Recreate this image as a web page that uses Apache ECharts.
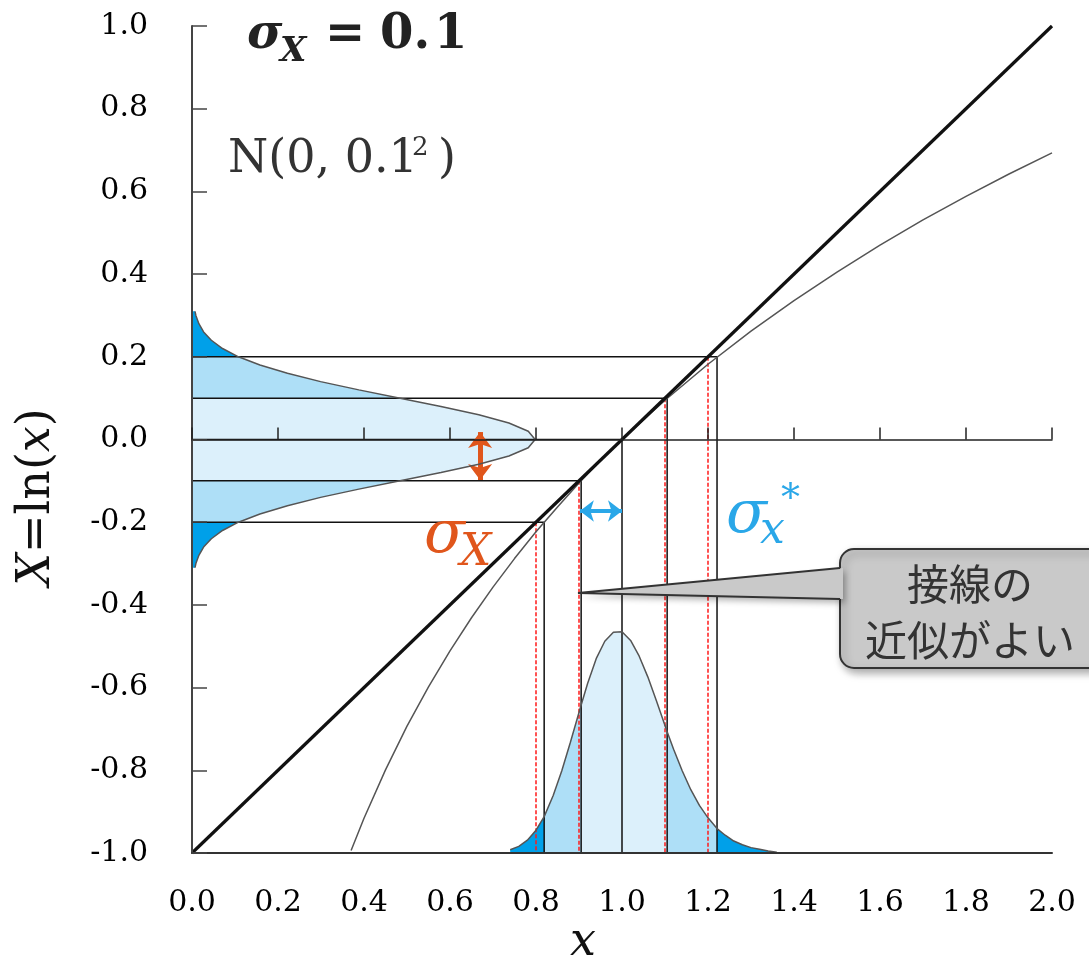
<!DOCTYPE html>
<html>
<head>
<meta charset="utf-8">
<script src="https://cdn.jsdelivr.net/npm/echarts@6/dist/echarts.min.js"></script>
<style>
  html, body { margin: 0; padding: 0; background: #fff; }
  #chart { width: 1089px; height: 965px; }
</style>
</head>
<body>
<div id="chart"></div>
<script>
// 軸の目盛
const xTicks = [0, 0.2, 0.4, 0.6, 0.8, 1.0, 1.2, 1.4, 1.6, 1.8, 2.0]
const yTicks = [-1.0, -0.8, -0.6, -0.4, -0.2, 0, 0.2, 0.4, 0.6, 0.8, 1.0]

// X = ln(x)
const lnX = [0.37, 0.40, 0.45, 0.50, 0.55, 0.60, 0.65, 0.70, 0.75, 0.80, 0.85, 0.90, 0.95, 1.00,
  1.10, 1.20, 1.30, 1.40, 1.50, 1.60, 1.70, 1.80, 1.90, 2.00]
const lnY = [-0.994, -0.916, -0.799, -0.693, -0.598, -0.511, -0.431, -0.357, -0.288, -0.223, -0.163, -0.105, -0.051, 0,
  0.095, 0.182, 0.262, 0.336, 0.405, 0.470, 0.531, 0.588, 0.642, 0.693]

// 接線 (x = 1)
const tanX = [0, 2]
const tanY = [-1, 1]

// 左: N(0, 0.1^2) の密度 (横向き)
const normY = [-0.31, -0.30, -0.28, -0.26, -0.24, -0.22, -0.20, -0.18, -0.16, -0.14, -0.12, -0.10, -0.08, -0.06, -0.04, -0.02,
  0, 0.02, 0.04, 0.06, 0.08, 0.10, 0.12, 0.14, 0.16, 0.18, 0.20, 0.22, 0.24, 0.26, 0.28, 0.30, 0.31]
const normW = [0.007, 0.009, 0.016, 0.027, 0.045, 0.071, 0.108, 0.158, 0.222, 0.299, 0.388, 0.484, 0.579, 0.667, 0.737, 0.782,
  0.798, 0.782, 0.737, 0.667, 0.579, 0.484, 0.388, 0.299, 0.222, 0.158, 0.108, 0.071, 0.045, 0.027, 0.016, 0.009, 0.007]
const normEdges = [-0.31, -0.2, -0.1, 0.1, 0.2, 0.31]

// 下: x の対数正規密度
const lognX = [0.74, 0.76, 0.78, 0.80, 0.819, 0.84, 0.86, 0.88, 0.905, 0.92, 0.94, 0.96, 0.98, 1.00, 1.02, 1.04,
  1.06, 1.08, 1.105, 1.12, 1.14, 1.16, 1.18, 1.20, 1.221, 1.24, 1.26, 1.28, 1.30, 1.32, 1.34, 1.36]
const lognY = [-0.992, -0.984, -0.969, -0.945, -0.912, -0.861, -0.801, -0.732, -0.642, -0.590, -0.530, -0.488, -0.466, -0.465, -0.486, -0.524,
  -0.574, -0.632, -0.707, -0.749, -0.801, -0.847, -0.885, -0.915, -0.941, -0.957, -0.971, -0.980, -0.987, -0.991, -0.995, -0.998]
const lognEdges = [0.74, 0.819, 0.905, 1.105, 1.221, 1.36]

// 補助線
const levelY = [-0.2, -0.1, 0, 0.1, 0.2]
const levelX = [0.819, 0.905, 1.0, 1.105, 1.221]
const redX = [0.8, 0.9, 1.1, 1.2]
const redTop = [-0.2, -0.1, 0.1, 0.2]

// 矢印
const sigmaArrow = [[0.67, 0.018], [0.67, -0.098]]
const sigmaStarArrow = [[0.902, -0.173], [1.0, -0.173]]

const bandFill = ['#00a0e9', '#aedff7', '#dcf0fb', '#aedff7', '#00a0e9']
const serif = '"DejaVu Serif", "Liberation Serif", serif'
const inRange = (v, lo, hi) => v >= lo - 1e-9 && v <= hi + 1e-9

const chart = echarts.init(document.getElementById('chart'))

function tickLabel(v) {
  return (Math.abs(v) < 1e-9 ? 0 : v).toFixed(1)
}

function txt(x, y, text, size, color, opts = {}) {
  return {
    type: 'text', x, y, z: 100, silent: true,
    style: {
      text, fill: color, fontSize: size, fontFamily: opts.family || serif,
      fontStyle: opts.italic ? 'italic' : 'normal',
      fontWeight: opts.bold ? 'bold' : 'normal',
      align: opts.align || 'left', textAlign: opts.align || 'left',
      verticalAlign: 'middle', textVerticalAlign: 'middle',
      lineHeight: opts.lineHeight,
    },
  }
}

const orange = '#e0561c'
const blue = '#2aa7e8'
const calloutFill = '#c9c9c9'

const option = {
  animation: false,
  grid: [
    { left: 192, right: 37, top: 26, bottom: 112 },
    { left: 192, right: 37, top: 26, bottom: 112 },
  ],
  xAxis: [
    {
      type: 'value', gridIndex: 0, min: xTicks[0], max: xTicks[xTicks.length - 1], interval: 0.2,
      axisLine: { onZero: false, lineStyle: { color: '#333', width: 2 } },
      axisTick: { show: false },
      splitLine: { show: false },
      axisLabel: { formatter: tickLabel, fontFamily: serif, fontSize: 30, color: '#000', margin: 35 },
      z: 10,
    },
    {
      type: 'value', gridIndex: 1, min: xTicks[0], max: xTicks[xTicks.length - 1], interval: 0.2,
      axisLine: { onZero: true, lineStyle: { color: '#222', width: 1.5 } },
      axisTick: { inside: true, length: 12, lineStyle: { color: '#222', width: 1.5 } },
      axisLabel: { show: false },
      splitLine: { show: false },
      z: 10,
    },
  ],
  yAxis: [
    {
      type: 'value', gridIndex: 0, min: yTicks[0], max: yTicks[yTicks.length - 1], interval: 0.2,
      axisLine: { show: true, onZero: false, lineStyle: { color: '#444', width: 2 } },
      axisTick: { show: true, inside: true, length: 15, lineStyle: { color: '#444', width: 1.5 } },
      splitLine: { show: false },
      axisLabel: { formatter: tickLabel, fontFamily: serif, fontSize: 30, color: '#000', margin: 44 },
      z: 10,
    },
    { type: 'value', gridIndex: 1, min: -1, max: 1, show: false },
  ],
  series: [
    {
      name: 'normFill', type: 'custom', z: 1, silent: true, data: [[0, 0]],
      renderItem: (params, api) => ({
        type: 'group',
        children: bandFill.map((fill, i) => {
          const lo = normEdges[i], hi = normEdges[i + 1]
          const pts = [api.coord([0, lo])]
          normY.forEach((y, k) => { if (inRange(y, lo, hi)) pts.push(api.coord([normW[k], y])) })
          pts.push(api.coord([0, hi]))
          return { type: 'polygon', shape: { points: pts }, style: { fill } }
        }),
      }),
    },
    {
      name: 'lognFill', type: 'custom', z: 1, silent: true, data: [[0, 0]],
      renderItem: (params, api) => ({
        type: 'group',
        children: bandFill.map((fill, i) => {
          const lo = lognEdges[i], hi = lognEdges[i + 1]
          const pts = [api.coord([lo, -1])]
          lognX.forEach((x, k) => { if (inRange(x, lo, hi)) pts.push(api.coord([x, lognY[k]])) })
          pts.push(api.coord([hi, -1]))
          return { type: 'polygon', shape: { points: pts }, style: { fill } }
        }),
      }),
    },
    {
      name: 'guides', type: 'custom', z: 3, silent: true,
      data: levelX.map((x, i) => [x, levelY[i]]),
      renderItem: (params, api) => {
        const x = api.value(0), y = api.value(1)
        return {
          type: 'polyline',
          shape: { points: [api.coord([0, y]), api.coord([x, y]), api.coord([x, -1])] },
          style: { stroke: '#111', lineWidth: 1.5, fill: null },
        }
      },
    },
    {
      name: 'redDash', type: 'custom', z: 4, silent: true,
      data: redX.map((x, i) => [x, redTop[i]]),
      renderItem: (params, api) => {
        const a = api.coord([api.value(0), api.value(1)])
        const b = api.coord([api.value(0), -1])
        return {
          type: 'line',
          shape: { x1: a[0], y1: a[1], x2: b[0], y2: b[1] },
          style: { stroke: '#ff1a1a', lineWidth: 1.5, lineDash: [4, 2] },
        }
      },
    },
    {
      name: 'normLine', type: 'line', z: 5, symbol: 'none', silent: true,
      data: normW.map((w, i) => [w, normY[i]]),
      lineStyle: { color: '#555', width: 1.5 },
    },
    {
      name: 'lognLine', type: 'line', z: 5, symbol: 'none', silent: true,
      data: lognX.map((x, i) => [x, lognY[i]]),
      lineStyle: { color: '#555', width: 1.5 },
    },
    {
      name: 'ln', type: 'line', z: 6, symbol: 'none', silent: true,
      data: lnX.map((x, i) => [x, lnY[i]]),
      lineStyle: { color: '#555', width: 1.5 },
    },
    {
      name: 'tangent', type: 'line', z: 7, symbol: 'none', silent: true,
      data: tanX.map((x, i) => [x, tanY[i]]),
      lineStyle: { color: '#111', width: 3.2 },
    },
    {
      name: 'sigmaArrow', type: 'line', z: 8, symbol: 'none', silent: true, data: [],
      markLine: {
        silent: true, symbol: ['arrow', 'arrow'], symbolSize: [18, 16],
        label: { show: false },
        lineStyle: { color: orange, width: 5, type: 'solid' },
        itemStyle: { color: orange },
        data: [[{ coord: sigmaArrow[0] }, { coord: sigmaArrow[1] }]],
      },
    },
    {
      name: 'sigmaStarArrow', type: 'line', z: 8, symbol: 'none', silent: true, data: [],
      markLine: {
        silent: true, symbol: ['arrow', 'arrow'], symbolSize: [16, 14],
        label: { show: false },
        lineStyle: { color: blue, width: 4, type: 'solid' },
        itemStyle: { color: blue },
        data: [[{ coord: sigmaStarArrow[0] }, { coord: sigmaStarArrow[1] }]],
      },
    },
  ],
  graphic: [
    // σ_X = 0.1
    txt(247, 36, 'σ', 48, '#222', { italic: true, bold: true }),
    txt(280, 52, 'X', 34, '#222', { italic: true, bold: true }),
    txt(325, 36, '=', 48, '#222', { bold: true }),
    txt(380, 36, '0.', 48, '#222', { bold: true }),
    txt(434, 36, '1', 48, '#222', { bold: true }),
    // N(0, 0.1^2)
    txt(228, 160, 'N(0, 0.1', 46, '#333'),
    txt(412, 148, '2', 26, '#333'),
    txt(438, 160, ')', 46, '#333'),
    // σ_X
    txt(424, 536, 'σ', 60, orange, { italic: true }),
    txt(460, 554, 'X', 44, orange, { italic: true }),
    // σ_x^*
    txt(726, 516, 'σ', 60, blue, { italic: true }),
    txt(760, 532, 'x', 44, blue, { italic: true }),
    txt(781, 500, '*', 38, blue),
    // 軸名
    {
      type: 'text', x: 37, y: 497, z: 100, rotation: Math.PI / 2, silent: true,
      style: {
        text: '{i|X}{n|=ln(}{i|x}{n|)}',
        align: 'center', textAlign: 'center', verticalAlign: 'middle', textVerticalAlign: 'middle',
        rich: {
          i: { fontFamily: serif, fontSize: 46, fontStyle: 'italic', fill: '#111', color: '#111' },
          n: { fontFamily: serif, fontSize: 46, fill: '#111', color: '#111' },
        },
      },
    },
    txt(583, 943, 'x', 46, '#111', { italic: true, align: 'center' }),
    // 吹き出し
    {
      type: 'rect', z: 90, silent: true,
      shape: { x: 840, y: 549, width: 280, height: 119, r: 14 },
      style: {
        fill: calloutFill, stroke: '#333', lineWidth: 2,
        shadowBlur: 8, shadowColor: 'rgba(0,0,0,0.35)', shadowOffsetX: 3, shadowOffsetY: 4,
      },
    },
    {
      type: 'polygon', z: 91, silent: true,
      shape: { points: [[843, 568], [578, 593], [843, 599]] },
      style: { fill: calloutFill, shadowBlur: 6, shadowColor: 'rgba(0,0,0,0.3)', shadowOffsetX: 2, shadowOffsetY: 4 },
    },
    {
      type: 'polyline', z: 92, silent: true,
      shape: { points: [[840, 568], [578, 593], [840, 599]] },
      style: { stroke: '#333', lineWidth: 2, fill: null },
    },
    txt(970, 612, '接線の\n近似がよい', 42, '#333', { align: 'center', family: '"Noto Sans CJK JP", sans-serif', lineHeight: 56 }),
  ],
}

chart.setOption(option)
window.addEventListener('resize', () => chart.resize())
</script>
</body>
</html>
